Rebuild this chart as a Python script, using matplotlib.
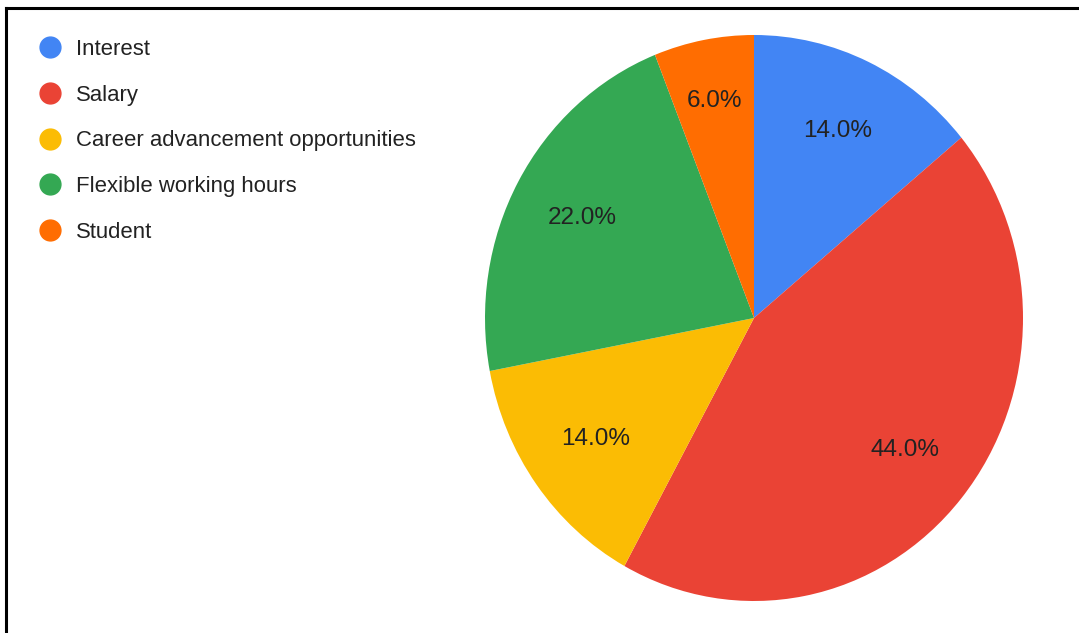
import matplotlib
matplotlib.use("Agg")
import numpy as np
import matplotlib.pyplot as plt
from matplotlib.lines import Line2D

categories = ["Interest", "Salary", "Career advancement opportunities",
              "Flexible working hours", "Student"]
shares = [14.0, 44.0, 14.0, 22.0, 6.0]
colors = ["#4285F4", "#EA4335", "#FBBC04", "#34A853", "#FF6D01"]

W, H = 1079, 633
fig = plt.figure(figsize=(W / 100, H / 100), dpi=100)
fig.patch.set_facecolor("white")
plt.rcParams["font.family"] = ["Liberation Sans", "DejaVu Sans"]

# pie axes, placed in pixel units
cx, cy, rx, ry = 754, 318, 269, 283
ax = fig.add_axes([(cx - rx) / W, (H - cy - ry) / H, 2 * rx / W, 2 * ry / H])
wedges, _, pct_texts = ax.pie(
    shares, colors=colors, startangle=90, counterclock=False,
    autopct="%.1f%%", pctdistance=0.73,
    wedgeprops=dict(linewidth=0),
    textprops=dict(fontsize=17.5, color="#222222"))

# the thin slice gets its label pushed a little further out
for w, t, s in zip(wedges, pct_texts, shares):
    if s < 10:
        mid = np.deg2rad((w.theta1 + w.theta2) / 2)
        t.set_position((0.78 * np.cos(mid), 0.78 * np.sin(mid)))

ax.set_xlim(-1, 1)
ax.set_ylim(-1, 1)
ax.set_aspect("auto")
ax.axis("off")

# legend
handles = [Line2D([], [], linestyle="none", marker="o", markersize=15,
                  markerfacecolor=c, markeredgecolor=c) for c in colors]
fig.legend(handles, categories, loc="upper left",
           bbox_to_anchor=(28 / W, 1 - 30 / H), frameon=False,
           fontsize=15.9, labelcolor="#222222", labelspacing=1.12,
           handletextpad=0.58, handlelength=1.2, borderaxespad=0)

# frame lines along the top and left
fig.add_artist(Line2D([6 / W, 1], [1 - 7.5 / H, 1 - 7.5 / H],
                      transform=fig.transFigure, color="black", linewidth=2.2))
fig.add_artist(Line2D([6 / W, 6 / W], [0, 1 - 7.5 / H],
                      transform=fig.transFigure, color="black", linewidth=2.2))

fig.savefig("out.png", dpi=100)
